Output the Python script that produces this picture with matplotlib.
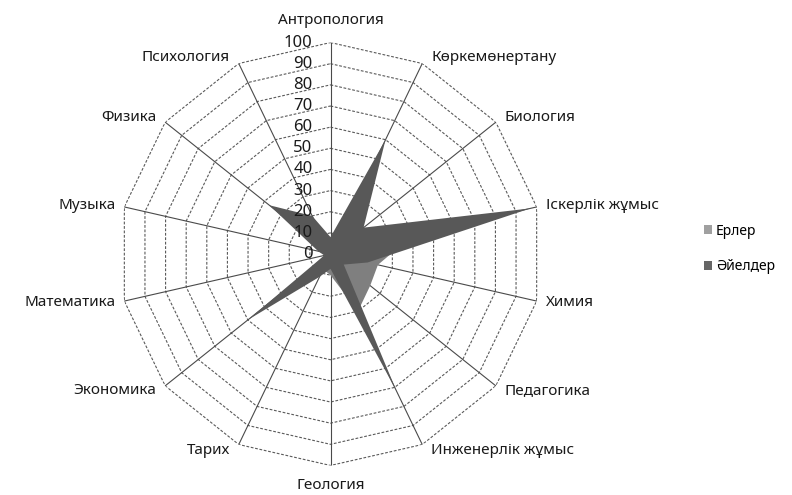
import numpy as np
import matplotlib
matplotlib.use('Agg')
import matplotlib.pyplot as plt
from matplotlib.patches import Patch
from matplotlib.transforms import offset_copy

plt.rcParams['font.family'] = ['Noto Sans', 'DejaVu Sans']

categories = ['Антропология', 'Көркемөнертану', 'Биология', 'Іскерлік жұмыс',
              'Химия', 'Педагогика', 'Инженерлік жұмыс', 'Геология', 'Тарих',
              'Экономика', 'Математика', 'Музыка', 'Физика', 'Психология']
erler = [4, 20, 15, 40, 23, 24, 30, 10, 8, 20, 3, 4, 15, 12]
aielder = [8, 60, 20, 97, 18, 8, 72, 7, 12, 50, 3, 6, 37, 20]
series_names = ['Ерлер', 'Әйелдер']
series_colors = ['#7f7f7f', '#585858']
rings = list(range(0, 101, 10))

n = len(categories)
theta = np.linspace(0, 2 * np.pi, n, endpoint=False)
theta_c = np.append(theta, theta[0])

fig = plt.figure(figsize=(7.92, 4.95), dpi=100)
ax = fig.add_axes([0.1503, 0.0596, 0.534, 0.8545], projection='polar')
ax.set_theta_zero_location('N')
ax.set_theta_direction(-1)
ax.set_ylim(0, 100)
ax.grid(False)
ax.set_xticks([])
ax.set_yticks([])
ax.spines['polar'].set_visible(False)
ax.patch.set_alpha(0)

# polygon gridlines and spokes
for r in rings[1:]:
    ax.plot(theta_c, [r] * (n + 1), color='#5a5a5a', lw=0.8,
            ls=(0, (2.5, 1.5)), zorder=1)
for t in theta:
    ax.plot([t, t], [0, 100], color='#4a4a4a', lw=0.8, zorder=1)

# filled series
for vals, col in zip([erler, aielder], series_colors):
    v = np.append(vals, vals[0])
    ax.fill(theta_c, v, color=col, lw=0, zorder=2)

# radial value labels
tr = offset_copy(ax.transData, fig=fig, x=-18, y=0, units='dots')
for r in rings:
    ax.text(0, r, str(r), transform=tr, ha='right', va='center',
            fontsize=12, color='#1a1a1a', zorder=4)

# category labels
for t, name in zip(theta, categories):
    s, c = np.sin(t), np.cos(t)
    if abs(s) < 0.1:
        ha = 'center'
        va = 'bottom' if c > 0 else 'top'
        dx, dy = 0, (15 if c > 0 else -13)
    else:
        ha = 'left' if s > 0 else 'right'
        va = 'center'
        dx, dy = 9 * np.sign(s), 7 * c
    trl = offset_copy(ax.transData, fig=fig, x=dx, y=dy, units='dots')
    ax.text(t, 100, name, transform=trl, ha=ha, va=va, fontsize=11,
            color='#1a1a1a', clip_on=False)

handles = [Patch(facecolor=c, edgecolor='none') for c in ['#a0a0a0', '#666666']]
fig.legend(handles, series_names, loc='center left',
           bbox_to_anchor=(691 / 792, 1 - 249 / 495), frameon=False,
           handlelength=0.6, handleheight=0.6, handletextpad=0.3,
           labelspacing=1.5, fontsize=10)

fig.savefig('out.png', dpi=100)
